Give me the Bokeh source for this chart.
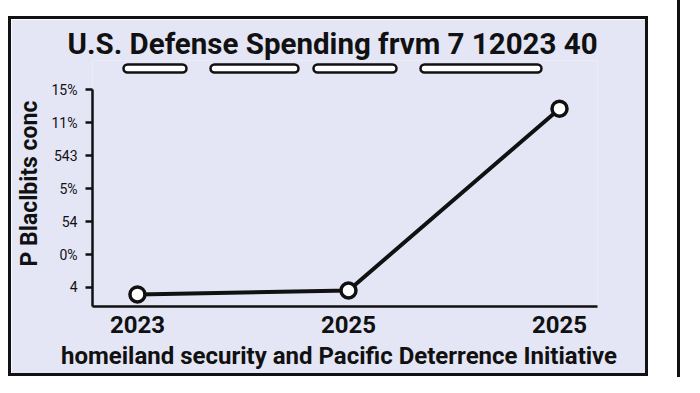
from bokeh.plotting import figure
from bokeh.models import BoxAnnotation, FixedTicker, Div
from bokeh.layouts import row
from bokeh.embed import file_html
from bokeh.resources import INLINE

title_text = "U.S. Defense Spending  frvm 7 12023 40"
y_axis_title = "P Blaclbits conc"
x_caption = "homeiland security  and Pacific Deterrence  Initiative"
x_labels = ["2023", "2025", "2025"]
x_pos = [0, 1, 2]
y_tick_labels = ["4", "0%", "54", "5%", "543", "11%", "15%"]
y_values = [-0.21, -0.09, 5.42]

FONT = "Roboto"
PANEL = "#e4e6f6"
INK = "#111111"

p = figure(width=640, height=360, x_range=(-0.213, 2.18), y_range=(-0.576, 6.88),
           output_backend="svg", toolbar_location=None,
           min_border_left=81, min_border_right=54, min_border_top=41, min_border_bottom=73)
p.margin = (16, 0, 0, 8)
p.styles = {"border": "3px solid #111111"}
p.background_fill_color = PANEL
p.border_fill_color = PANEL
p.outline_line_color = None
p.grid.visible = False

# title underline dashes (decoration)
for l, r in [(109, 172), (196, 284), (299, 382), (406, 527)]:
    p.add_layout(BoxAnnotation(left=l, right=r, top=42, bottom=50,
                               left_units="canvas", right_units="canvas",
                               top_units="canvas", bottom_units="canvas",
                               fill_color="white", fill_alpha=1,
                               line_color=INK, line_alpha=1, line_width=2.5,
                               border_radius=4))

p.title.text = title_text
p.title.align = "left"
p.title.text_font = FONT
p.title.text_font_size = "29.5px"
p.title.text_font_style = "bold"
p.title.text_color = INK
p.title.standoff = 0
p.title.offset = -25

p.line(x_pos, y_values, line_width=4, line_color=INK)
p.scatter(x_pos, y_values, size=15, fill_color="white", line_color=INK, line_width=3.5)

ya = p.yaxis[0]
ya.bounds = (-0.576, 6)
ya.ticker = FixedTicker(ticks=list(range(len(y_tick_labels))))
ya.major_label_overrides = {i: s for i, s in enumerate(y_tick_labels)}
ya.major_label_text_font = FONT
ya.major_label_text_font_size = "14px"
ya.major_label_text_color = INK
ya.major_tick_in = 0
ya.major_tick_out = 7
ya.major_tick_line_width = 2.5
ya.major_tick_line_color = INK
ya.minor_tick_line_color = None
ya.axis_line_width = 2.5
ya.axis_line_color = INK
ya.major_label_standoff = 8
ya.axis_label = y_axis_title
ya.axis_label_text_font = FONT
ya.axis_label_text_font_style = "bold"
ya.axis_label_text_font_size = "23px"
ya.axis_label_text_color = INK
ya.axis_label_standoff = 6

xa = p.xaxis[0]
xa.ticker = FixedTicker(ticks=x_pos)
xa.major_label_overrides = {i: s for i, s in zip(x_pos, x_labels)}
xa.major_label_text_font = FONT
xa.major_label_text_font_style = "bold"
xa.major_label_text_font_size = "24px"
xa.major_label_text_color = INK
xa.major_tick_in = 0
xa.major_tick_out = 0
xa.minor_tick_line_color = None
xa.axis_line_width = 2.5
xa.axis_line_color = INK
xa.major_label_standoff = 9
xa.axis_label = x_caption
xa.axis_label_text_font = FONT
xa.axis_label_text_font_style = "bold"
xa.axis_label_text_font_size = "24px"
xa.axis_label_text_color = INK
xa.axis_label_standoff = 6

edge = Div(text="", width=12, height=377, margin=(0, 0, 0, 29),
           styles={"border-left": "3px solid #111111"})

layout = row(p, edge)
open("out.html", "w").write(file_html(layout, INLINE))
